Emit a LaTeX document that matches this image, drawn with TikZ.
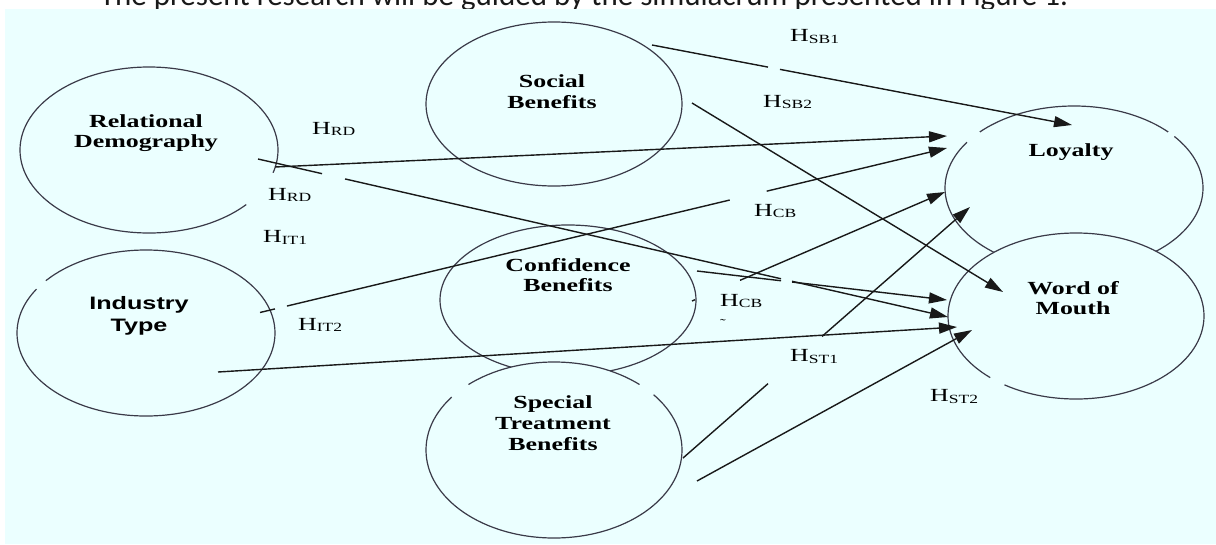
\documentclass[tikz,border=0pt]{standalone}
\usepackage{fontspec}
\usetikzlibrary{arrows.meta,shapes.geometric}
\newfontfamily\dserif[FakeStretch=1.4]{Liberation Serif}
\newfontfamily\dsans[FakeStretch=1.4]{Liberation Sans}
\newfontfamily\capfont{Carlito}
\definecolor{bg}{HTML}{EBFFFF}
\definecolor{edge}{HTML}{3A3A48}
\newcommand\hlab[1]{H\raisebox{-1.5pt}{\fontsize{12.5}{12.5}\selectfont #1}}
\tikzset{
  oval/.style={ellipse, draw=edge, line width=1.2pt, inner sep=0pt},
  ovalfill/.style={oval, fill=bg},
  etext/.style={font=\dserif\bfseries\fontsize{18.5}{20.7}\selectfont, align=center, inner sep=0pt},
  stext/.style={font=\dsans\bfseries\fontsize{18}{22}\selectfont, align=center, inner sep=0pt},
  hlabel/.style={font=\dserif\fontsize{18.5}{18.5}\selectfont, anchor=base west, inner sep=0pt},
  conn/.style={line width=1.4pt, draw=black!90, -{Triangle[length=18pt,width=11pt]}},
  mask/.style={draw=bg, line width=5pt},
}
\begin{document}
\begin{tikzpicture}[x=1pt,y=-1pt]
\path[use as bounding box] (0,0) rectangle (1216,544);
\clip (0,0) rectangle (1216,544);
\fill[white] (0,0) rectangle (1216,544);
% caption (partly cut off at the top)
\node[font=\capfont\fontsize{31}{31}\selectfont, anchor=base, inner sep=0pt, text=black!90] (cap) at (584,5.5)
  {The present research will be guided by the simulacrum presented in Figure 1.};
% panel
\fill[bg] (5,9) rectangle (1216,544);

% constructs
\node[oval, minimum width=258pt, minimum height=166pt] (rd) at (149,150) {};
\node[oval, minimum width=256pt, minimum height=164pt] (sb) at (554,104) {};
\node[oval, minimum width=258pt, minimum height=166pt] (it) at (146,333) {};
\node[oval, minimum width=256pt, minimum height=150pt] (cb) at (568,300) {};
\node[ovalfill, minimum width=256pt, minimum height=176pt] (st) at (554,450) {};
\node[oval, minimum width=258pt, minimum height=164pt] (loy) at (1074,188) {};
\node[ovalfill, minimum width=256pt, minimum height=166pt] (wom) at (1076,316) {};

% gaps in the outlines
\draw[mask] (149,150) ++(16:129 and 83) arc[start angle=16,end angle=41,x radius=129,y radius=83];
\draw[mask] (146,333) ++(212:129 and 83) arc[start angle=212,end angle=219,x radius=129,y radius=83];
\draw[mask] (554,450) ++(217:128 and 88) arc[start angle=217,end angle=228,x radius=128,y radius=88];
\draw[mask] (554,450) ++(312:128 and 88) arc[start angle=312,end angle=321,x radius=128,y radius=88];
\draw[mask] (1074,188) ++(214:129 and 82) arc[start angle=214,end angle=223,x radius=129,y radius=82];
\draw[mask] (1074,188) ++(317:129 and 82) arc[start angle=317,end angle=321,x radius=129,y radius=82];
\draw[mask] (1076,316) ++(124:128 and 83) arc[start angle=124,end angle=132,x radius=128,y radius=83];

% texts in the constructs
\node[etext] (rdT) at (146,133) {Relational\\Demography};
\node[etext] (sbT) at (552,91.5) {Social\\Benefits};
\node[stext] (itT) at (139,315.5) {Industry\\Type};
\node[etext] (cbT) at (568,275) {Confidence\\Benefits};
\node[etext] (stT) at (553,423) {Special\\Treatment\\Benefits};
\node[etext, anchor=base] (loyT) at (1071,156.7) {Loyalty};
\node[etext] (womT) at (1073,298) {Word of\\Mouth};

% end points of the paths
\coordinate (sb1s) at (652,45);   \coordinate (sb1e) at (1072,125);
\coordinate (sb2s) at (692,103);  \coordinate (sb2e) at (1003,292);
\coordinate (rdls) at (275,167);  \coordinate (rdle) at (947,136);
\coordinate (rdws) at (258,159);  \coordinate (rdwe) at (948,317);
\coordinate (it1s) at (260,312.5);\coordinate (it1e) at (947,148);
\coordinate (cbls) at (692,301);  \coordinate (cble) at (945,192);
\coordinate (cbws) at (697,271);  \coordinate (cbwe) at (947,300);
\coordinate (it2s) at (218,372);  \coordinate (it2e) at (957,327);
\coordinate (st1s) at (683,458);  \coordinate (st1e) at (970,207);
\coordinate (st2s) at (697,481);  \coordinate (st2e) at (972,330);

% paths
\draw[conn, dash pattern=on 118.1pt off 12.2pt on 2000pt] (sb1s) -- (sb1e);
\draw[conn] (sb2s) -- (sb2e);
\draw[conn] (rdls) -- (rdle);
\draw[conn, dash pattern=on 65.7pt off 23.6pt on 447.3pt off 11.3pt on 2000pt] (rdws) -- (rdwe);
\draw[conn, dash pattern=on 15.4pt off 12.3pt on 455.3pt off 38pt on 2000pt] (it1s) -- (it1e);
\draw[conn, dash pattern=on 3.3pt off 49pt on 2000pt] (cbls) -- (cble);
\draw[conn, dash pattern=on 84.6pt off 11.1pt on 2000pt] (cbws) -- (cbwe);
\draw[conn] (it2s) -- (it2e);
\draw[conn, dash pattern=on 112.9pt off 71.7pt on 2000pt] (st1s) -- (st1e);
\draw[conn] (st2s) -- (st2e);

% hypothesis labels
\node[hlabel] (hsb1) at (790,41.5) {\hlab{SB1}};
\node[hlabel] (hsb2) at (763,107.3) {\hlab{SB2}};
\node[hlabel] (hrd1) at (312,134) {\hlab{RD}};
\node[hlabel] (hrd2) at (268,200) {\hlab{RD}};
\node[hlabel] (hit1) at (263,242.7) {\hlab{IT1}};
\node[hlabel] (hit2) at (298,330) {\hlab{IT2}};
\node[hlabel] (hcb1) at (754,216) {\hlab{CB}};
\node[hlabel] (hcb2) at (720,306) {\hlab{CB}};
\node[font=\dserif\fontsize{12}{12}\selectfont, inner sep=0pt] (tld) at (723,323) {˜};
\node[hlabel] (hst1) at (790,361.7) {\hlab{ST1}};
\node[hlabel] (hst2) at (930,401.7) {\hlab{ST2}};
\end{tikzpicture}
\end{document}
